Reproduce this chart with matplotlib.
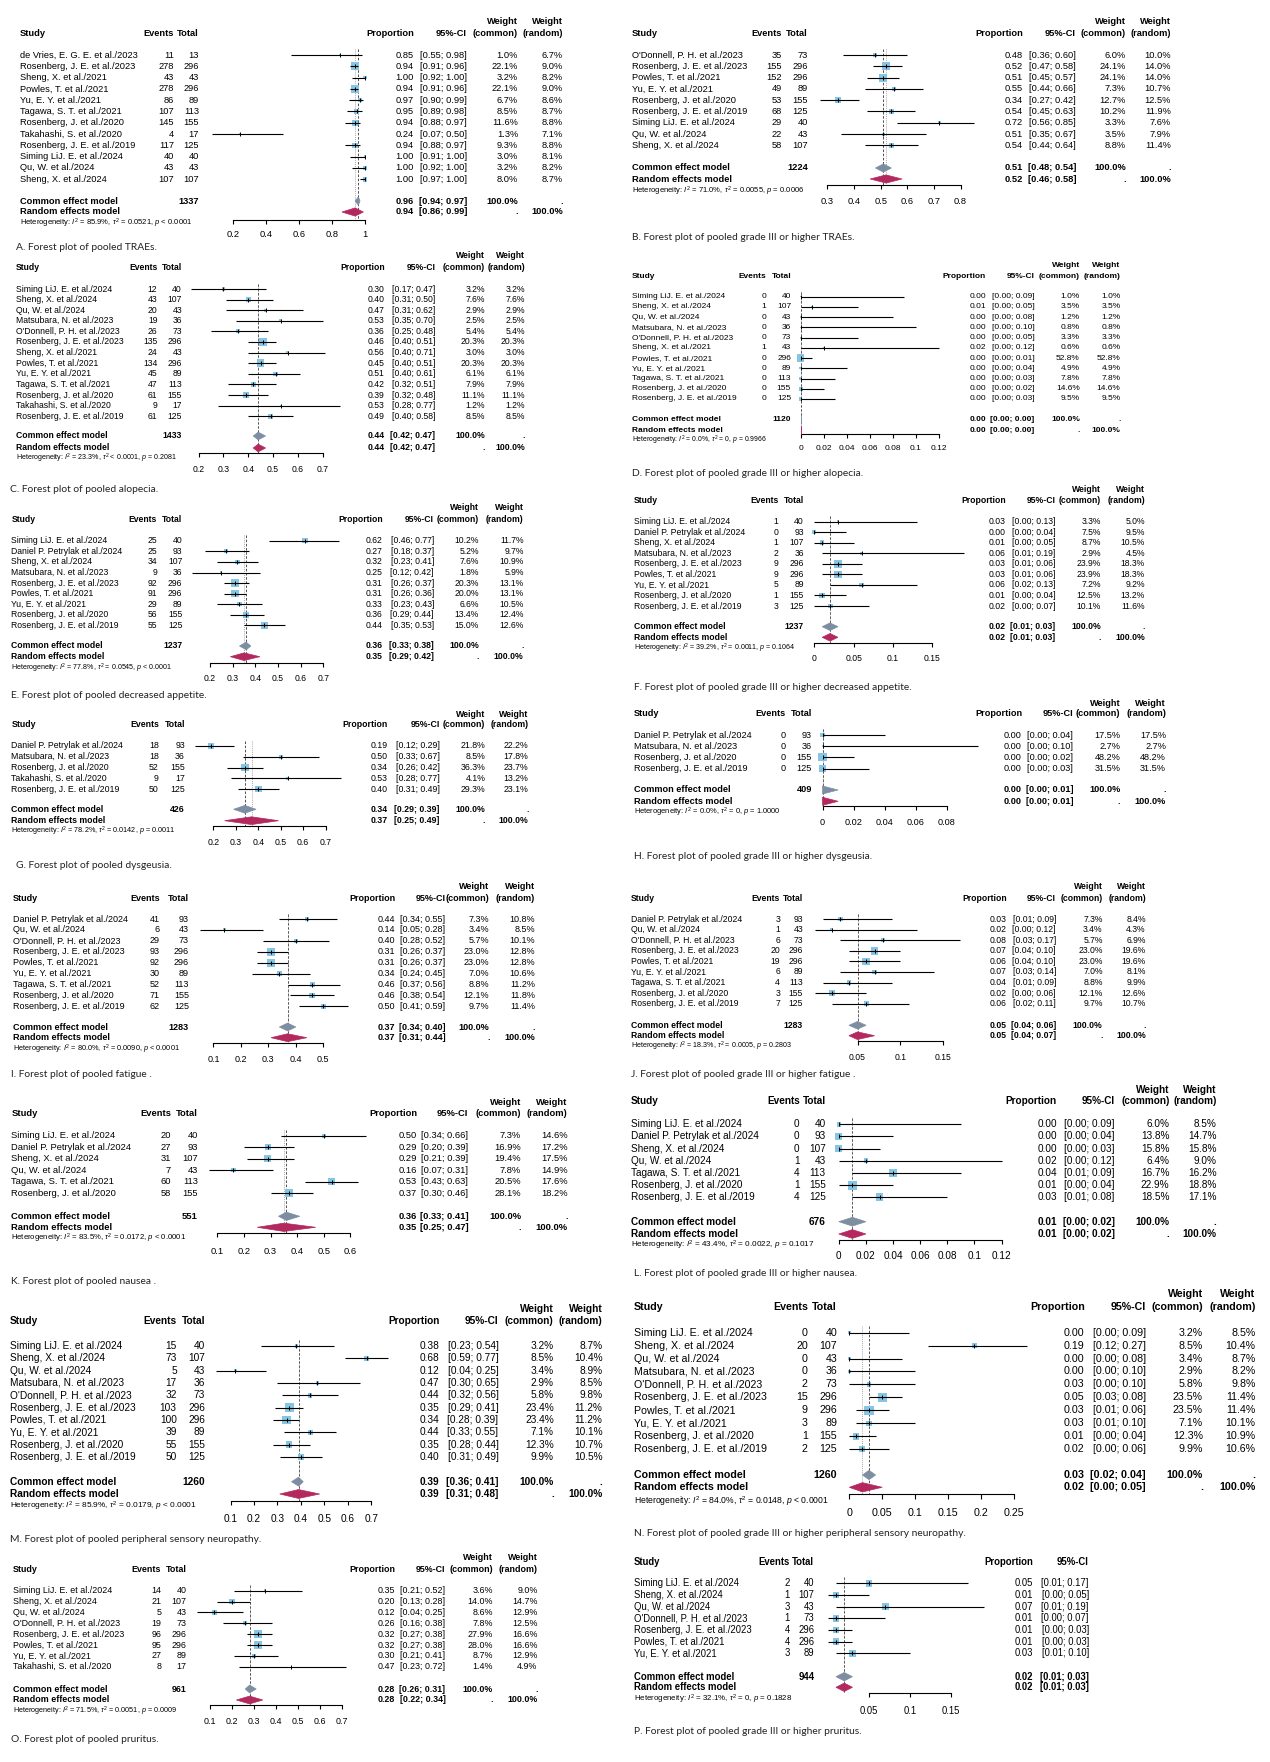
"""Sixteen forest plots of pooled adverse-event proportions (A-P)."""
import matplotlib
matplotlib.use("Agg")
import matplotlib.pyplot as plt
from matplotlib.patches import Polygon

W, H = 1270, 1762
plt.rcParams["font.family"] = ["Liberation Sans", "DejaVu Sans"]
plt.rcParams["mathtext.fontset"] = "custom"
plt.rcParams["mathtext.rm"] = "Liberation Sans"
plt.rcParams["mathtext.it"] = "Liberation Sans:italic"
plt.rcParams["mathtext.bf"] = "Liberation Sans:bold"

# ---------------- data ----------------
A_study = ["de Vries, E. G. E. et al./2023", "Rosenberg, J. E. et al./2023", "Sheng, X. et al./2021",
           "Powles, T. et al./2021", "Yu, E. Y. et al./2021", "Tagawa, S. T. et al./2021",
           "Rosenberg, J. et al./2020", "Takahashi, S. et al./2020", "Rosenberg, J. E. et al./2019",
           "Siming LiJ. E. et al./2024", "Qu, W. et al./2024", "Sheng, X. et al./2024"]
A_events = [11, 278, 43, 278, 86, 107, 145, 4, 117, 40, 43, 107]
A_total = [13, 296, 43, 296, 89, 113, 155, 17, 125, 40, 43, 107]
A_prop = [0.85, 0.94, 1.00, 0.94, 0.97, 0.95, 0.94, 0.24, 0.94, 1.00, 1.00, 1.00]
A_lo = [0.55, 0.91, 0.92, 0.91, 0.90, 0.89, 0.88, 0.07, 0.88, 0.91, 0.92, 0.97]
A_hi = [0.98, 0.96, 1.00, 0.96, 0.99, 0.98, 0.97, 0.50, 0.97, 1.00, 1.00, 1.00]
A_wc = [1.0, 22.1, 3.2, 22.1, 6.7, 8.5, 11.6, 1.3, 9.3, 3.0, 3.2, 8.0]
A_wr = [6.7, 9.0, 8.2, 9.0, 8.6, 8.7, 8.8, 7.1, 8.8, 8.1, 8.2, 8.7]
A_common = [0.96, 0.94, 0.97]
A_random = [0.94, 0.86, 0.99]
A_het = ["85.9%", "= 0.0521", "< 0.0001"]

B_study = ["O'Donnell, P. H. et al./2023", "Rosenberg, J. E. et al./2023", "Powles, T. et al./2021",
           "Yu, E. Y. et al./2021", "Rosenberg, J. et al./2020", "Rosenberg, J. E. et al./2019",
           "Siming LiJ. E. et al./2024", "Qu, W. et al./2024", "Sheng, X. et al./2024"]
B_events = [35, 155, 152, 49, 53, 68, 29, 22, 58]
B_total = [73, 296, 296, 89, 155, 125, 40, 43, 107]
B_prop = [0.48, 0.52, 0.51, 0.55, 0.34, 0.54, 0.72, 0.51, 0.54]
B_lo = [0.36, 0.47, 0.45, 0.44, 0.27, 0.45, 0.56, 0.35, 0.44]
B_hi = [0.60, 0.58, 0.57, 0.66, 0.42, 0.63, 0.85, 0.67, 0.64]
B_wc = [6.0, 24.1, 24.1, 7.3, 12.7, 10.2, 3.3, 3.5, 8.8]
B_wr = [10.0, 14.0, 14.0, 10.7, 12.5, 11.9, 7.6, 7.9, 11.4]
B_common = [0.51, 0.48, 0.54]
B_random = [0.52, 0.46, 0.58]
B_het = ["71.0%", "= 0.0055", "= 0.0006"]

C_study = ["Siming LiJ. E. et al./2024", "Sheng, X. et al./2024", "Qu, W. et al./2024",
           "Matsubara, N. et al./2023", "O'Donnell, P. H. et al./2023", "Rosenberg, J. E. et al./2023",
           "Sheng, X. et al./2021", "Powles, T. et al./2021", "Yu, E. Y. et al./2021",
           "Tagawa, S. T. et al./2021", "Rosenberg, J. et al./2020", "Takahashi, S. et al./2020",
           "Rosenberg, J. E. et al./2019"]
C_events = [12, 43, 20, 19, 26, 135, 24, 134, 45, 47, 61, 9, 61]
C_total = [40, 107, 43, 36, 73, 296, 43, 296, 89, 113, 155, 17, 125]
C_prop = [0.30, 0.40, 0.47, 0.53, 0.36, 0.46, 0.56, 0.45, 0.51, 0.42, 0.39, 0.53, 0.49]
C_lo = [0.17, 0.31, 0.31, 0.35, 0.25, 0.40, 0.40, 0.40, 0.40, 0.32, 0.32, 0.28, 0.40]
C_hi = [0.47, 0.50, 0.62, 0.70, 0.48, 0.51, 0.71, 0.51, 0.61, 0.51, 0.48, 0.77, 0.58]
C_wc = [3.2, 7.6, 2.9, 2.5, 5.4, 20.3, 3.0, 20.3, 6.1, 7.9, 11.1, 1.2, 8.5]
C_wr = [3.2, 7.6, 2.9, 2.5, 5.4, 20.3, 3.0, 20.3, 6.1, 7.9, 11.1, 1.2, 8.5]
C_common = [0.44, 0.42, 0.47]
C_random = [0.44, 0.42, 0.47]
C_het = ["23.3%", "< 0.0001", "= 0.2081"]

D_study = ["Siming LiJ. E. et al./2024", "Sheng, X. et al./2024", "Qu, W. et al./2024",
           "Matsubara, N. et al./2023", "O'Donnell, P. H. et al./2023", "Sheng, X. et al./2021",
           "Powles, T. et al./2021", "Yu, E. Y. et al./2021", "Tagawa, S. T. et al./2021",
           "Rosenberg, J. et al./2020", "Rosenberg, J. E. et al./2019"]
D_events = [0, 1, 0, 0, 0, 1, 0, 0, 0, 0, 0]
D_total = [40, 107, 43, 36, 73, 43, 296, 89, 113, 155, 125]
D_prop = [0.00, 0.01, 0.00, 0.00, 0.00, 0.02, 0.00, 0.00, 0.00, 0.00, 0.00]
D_lo = [0.00, 0.00, 0.00, 0.00, 0.00, 0.00, 0.00, 0.00, 0.00, 0.00, 0.00]
D_hi = [0.09, 0.05, 0.08, 0.10, 0.05, 0.12, 0.01, 0.04, 0.03, 0.02, 0.03]
D_wc = [1.0, 3.5, 1.2, 0.8, 3.3, 0.6, 52.8, 4.9, 7.8, 14.6, 9.5]
D_wr = [1.0, 3.5, 1.2, 0.8, 3.3, 0.6, 52.8, 4.9, 7.8, 14.6, 9.5]
D_common = [0.00, 0.00, 0.00]
D_random = [0.00, 0.00, 0.00]
D_het = ["0.0%", "= 0", "= 0.9966"]

E_study = ["Siming LiJ. E. et al./2024", "Daniel P. Petrylak et al./2024", "Sheng, X. et al./2024",
           "Matsubara, N. et al./2023", "Rosenberg, J. E. et al./2023", "Powles, T. et al./2021",
           "Yu, E. Y. et al./2021", "Rosenberg, J. et al./2020", "Rosenberg, J. E. et al./2019"]
E_events = [25, 25, 34, 9, 92, 91, 29, 56, 55]
E_total = [40, 93, 107, 36, 296, 296, 89, 155, 125]
E_prop = [0.62, 0.27, 0.32, 0.25, 0.31, 0.31, 0.33, 0.36, 0.44]
E_lo = [0.46, 0.18, 0.23, 0.12, 0.26, 0.26, 0.23, 0.29, 0.35]
E_hi = [0.77, 0.37, 0.41, 0.42, 0.37, 0.36, 0.43, 0.44, 0.53]
E_wc = [10.2, 5.2, 7.6, 1.8, 20.3, 20.0, 6.6, 13.4, 15.0]
E_wr = [11.7, 9.7, 10.9, 5.9, 13.1, 13.1, 10.5, 12.4, 12.6]
E_common = [0.36, 0.33, 0.38]
E_random = [0.35, 0.29, 0.42]
E_het = ["77.8%", "= 0.0545", "< 0.0001"]

F_study = E_study
F_events = [1, 0, 1, 2, 9, 9, 5, 1, 3]
F_total = [40, 93, 107, 36, 296, 296, 89, 155, 125]
F_prop = [0.03, 0.00, 0.01, 0.06, 0.03, 0.03, 0.06, 0.01, 0.02]
F_lo = [0.00, 0.00, 0.00, 0.01, 0.01, 0.01, 0.02, 0.00, 0.00]
F_hi = [0.13, 0.04, 0.05, 0.19, 0.06, 0.06, 0.13, 0.04, 0.07]
F_wc = [3.3, 7.5, 8.7, 2.9, 23.9, 23.9, 7.2, 12.5, 10.1]
F_wr = [5.0, 9.5, 10.5, 4.5, 18.3, 18.3, 9.2, 13.2, 11.6]
F_common = [0.02, 0.01, 0.03]
F_random = [0.02, 0.01, 0.03]
F_het = ["39.2%", "= 0.0011", "= 0.1064"]

G_study = ["Daniel P. Petrylak et al./2024", "Matsubara, N. et al./2023", "Rosenberg, J. et al./2020",
           "Takahashi, S. et al./2020", "Rosenberg, J. E. et al./2019"]
G_events = [18, 18, 52, 9, 50]
G_total = [93, 36, 155, 17, 125]
G_prop = [0.19, 0.50, 0.34, 0.53, 0.40]
G_lo = [0.12, 0.33, 0.26, 0.28, 0.31]
G_hi = [0.29, 0.67, 0.42, 0.77, 0.49]
G_wc = [21.8, 8.5, 36.3, 4.1, 29.3]
G_wr = [22.2, 17.8, 23.7, 13.2, 23.1]
G_common = [0.34, 0.29, 0.39]
G_random = [0.37, 0.25, 0.49]
G_het = ["78.2%", "= 0.0142", "= 0.0011"]

H_study = ["Daniel P. Petrylak et al./2024", "Matsubara, N. et al./2023", "Rosenberg, J. et al./2020",
           "Rosenberg, J. E. et al./2019"]
H_events = [0, 0, 0, 0]
H_total = [93, 36, 155, 125]
H_prop = [0.00, 0.00, 0.00, 0.00]
H_lo = [0.00, 0.00, 0.00, 0.00]
H_hi = [0.04, 0.10, 0.02, 0.03]
H_wc = [17.5, 2.7, 48.2, 31.5]
H_wr = [17.5, 2.7, 48.2, 31.5]
H_common = [0.00, 0.00, 0.01]
H_random = [0.00, 0.00, 0.01]
H_het = ["0.0%", "= 0", "= 1.0000"]

I_study = ["Daniel P. Petrylak et al./2024", "Qu, W. et al./2024", "O'Donnell, P. H. et al./2023",
           "Rosenberg, J. E. et al./2023", "Powles, T. et al./2021", "Yu, E. Y. et al./2021",
           "Tagawa, S. T. et al./2021", "Rosenberg, J. et al./2020", "Rosenberg, J. E. et al./2019"]
I_events = [41, 6, 29, 93, 92, 30, 52, 71, 62]
I_total = [93, 43, 73, 296, 296, 89, 113, 155, 125]
I_prop = [0.44, 0.14, 0.40, 0.31, 0.31, 0.34, 0.46, 0.46, 0.50]
I_lo = [0.34, 0.05, 0.28, 0.26, 0.26, 0.24, 0.37, 0.38, 0.41]
I_hi = [0.55, 0.28, 0.52, 0.37, 0.37, 0.45, 0.56, 0.54, 0.59]
I_wc = [7.3, 3.4, 5.7, 23.0, 23.0, 7.0, 8.8, 12.1, 9.7]
I_wr = [10.8, 8.5, 10.1, 12.8, 12.8, 10.6, 11.2, 11.8, 11.4]
I_common = [0.37, 0.34, 0.40]
I_random = [0.37, 0.31, 0.44]
I_het = ["80.0%", "= 0.0090", "< 0.0001"]

J_study = I_study
J_events = [3, 1, 6, 20, 19, 6, 4, 3, 7]
J_total = [93, 43, 73, 296, 296, 89, 113, 155, 125]
J_prop = [0.03, 0.02, 0.08, 0.07, 0.06, 0.07, 0.04, 0.02, 0.06]
J_lo = [0.01, 0.00, 0.03, 0.04, 0.04, 0.03, 0.01, 0.00, 0.02]
J_hi = [0.09, 0.12, 0.17, 0.10, 0.10, 0.14, 0.09, 0.06, 0.11]
J_wc = [7.3, 3.4, 5.7, 23.0, 23.0, 7.0, 8.8, 12.1, 9.7]
J_wr = [8.4, 4.3, 6.9, 19.6, 19.6, 8.1, 9.9, 12.6, 10.7]
J_common = [0.05, 0.04, 0.06]
J_random = [0.05, 0.04, 0.07]
J_het = ["18.3%", "= 0.0005", "= 0.2803"]

K_study = ["Siming LiJ. E. et al./2024", "Daniel P. Petrylak et al./2024", "Sheng, X. et al./2024",
           "Qu, W. et al./2024", "Tagawa, S. T. et al./2021", "Rosenberg, J. et al./2020"]
K_events = [20, 27, 31, 7, 60, 58]
K_total = [40, 93, 107, 43, 113, 155]
K_prop = [0.50, 0.29, 0.29, 0.16, 0.53, 0.37]
K_lo = [0.34, 0.20, 0.21, 0.07, 0.43, 0.30]
K_hi = [0.66, 0.39, 0.39, 0.31, 0.63, 0.46]
K_wc = [7.3, 16.9, 19.4, 7.8, 20.5, 28.1]
K_wr = [14.6, 17.2, 17.5, 14.9, 17.6, 18.2]
K_common = [0.36, 0.33, 0.41]
K_random = [0.35, 0.25, 0.47]
K_het = ["83.5%", "= 0.0172", "< 0.0001"]

L_study = ["Siming LiJ. E. et al./2024", "Daniel P. Petrylak et al./2024", "Sheng, X. et al./2024",
           "Qu, W. et al./2024", "Tagawa, S. T. et al./2021", "Rosenberg, J. et al./2020",
           "Rosenberg, J. E. et al./2019"]
L_events = [0, 0, 0, 1, 4, 1, 4]
L_total = [40, 93, 107, 43, 113, 155, 125]
L_prop = [0.00, 0.00, 0.00, 0.02, 0.04, 0.01, 0.03]
L_lo = [0.00, 0.00, 0.00, 0.00, 0.01, 0.00, 0.01]
L_hi = [0.09, 0.04, 0.03, 0.12, 0.09, 0.04, 0.08]
L_wc = [6.0, 13.8, 15.8, 6.4, 16.7, 22.9, 18.5]
L_wr = [8.5, 14.7, 15.8, 9.0, 16.2, 18.8, 17.1]
L_common = [0.01, 0.00, 0.02]
L_random = [0.01, 0.00, 0.02]
L_het = ["43.4%", "= 0.0022", "= 0.1017"]

M_study = ["Siming LiJ. E. et al./2024", "Sheng, X. et al./2024", "Qu, W. et al./2024",
           "Matsubara, N. et al./2023", "O'Donnell, P. H. et al./2023", "Rosenberg, J. E. et al./2023",
           "Powles, T. et al./2021", "Yu, E. Y. et al./2021", "Rosenberg, J. et al./2020",
           "Rosenberg, J. E. et al./2019"]
M_events = [15, 73, 5, 17, 32, 103, 100, 39, 55, 50]
M_total = [40, 107, 43, 36, 73, 296, 296, 89, 155, 125]
M_prop = [0.38, 0.68, 0.12, 0.47, 0.44, 0.35, 0.34, 0.44, 0.35, 0.40]
M_lo = [0.23, 0.59, 0.04, 0.30, 0.32, 0.29, 0.28, 0.33, 0.28, 0.31]
M_hi = [0.54, 0.77, 0.25, 0.65, 0.56, 0.41, 0.39, 0.55, 0.44, 0.49]
M_wc = [3.2, 8.5, 3.4, 2.9, 5.8, 23.4, 23.4, 7.1, 12.3, 9.9]
M_wr = [8.7, 10.4, 8.9, 8.5, 9.8, 11.2, 11.2, 10.1, 10.7, 10.5]
M_common = [0.39, 0.36, 0.41]
M_random = [0.39, 0.31, 0.48]
M_het = ["85.9%", "= 0.0179", "< 0.0001"]

N_study = M_study
N_events = [0, 20, 0, 0, 2, 15, 9, 3, 1, 2]
N_total = [40, 107, 43, 36, 73, 296, 296, 89, 155, 125]
N_prop = [0.00, 0.19, 0.00, 0.00, 0.03, 0.05, 0.03, 0.03, 0.01, 0.02]
N_lo = [0.00, 0.12, 0.00, 0.00, 0.00, 0.03, 0.01, 0.01, 0.00, 0.00]
N_hi = [0.09, 0.27, 0.08, 0.10, 0.10, 0.08, 0.06, 0.10, 0.04, 0.06]
N_wc = [3.2, 8.5, 3.4, 2.9, 5.8, 23.5, 23.5, 7.1, 12.3, 9.9]
N_wr = [8.5, 10.4, 8.7, 8.2, 9.8, 11.4, 11.4, 10.1, 10.9, 10.6]
N_common = [0.03, 0.02, 0.04]
N_random = [0.02, 0.00, 0.05]
N_het = ["84.0%", "= 0.0148", "< 0.0001"]

O_study = ["Siming LiJ. E. et al./2024", "Sheng, X. et al./2024", "Qu, W. et al./2024",
           "O'Donnell, P. H. et al./2023", "Rosenberg, J. E. et al./2023", "Powles, T. et al./2021",
           "Yu, E. Y. et al./2021", "Takahashi, S. et al./2020"]
O_events = [14, 21, 5, 19, 96, 95, 27, 8]
O_total = [40, 107, 43, 73, 296, 296, 89, 17]
O_prop = [0.35, 0.20, 0.12, 0.26, 0.32, 0.32, 0.30, 0.47]
O_lo = [0.21, 0.13, 0.04, 0.16, 0.27, 0.27, 0.21, 0.23]
O_hi = [0.52, 0.28, 0.25, 0.38, 0.38, 0.38, 0.41, 0.72]
O_wc = [3.6, 14.0, 8.6, 7.8, 27.9, 28.0, 8.7, 1.4]
O_wr = [9.0, 14.7, 12.9, 12.5, 16.6, 16.6, 12.9, 4.9]
O_common = [0.28, 0.26, 0.31]
O_random = [0.28, 0.22, 0.34]
O_het = ["71.5%", "= 0.0051", "= 0.0009"]

P_study = ["Siming LiJ. E. et al./2024", "Sheng, X. et al./2024", "Qu, W. et al./2024",
           "O'Donnell, P. H. et al./2023", "Rosenberg, J. E. et al./2023", "Powles, T. et al./2021",
           "Yu, E. Y. et al./2021"]
P_events = [2, 1, 3, 1, 4, 4, 3]
P_total = [40, 107, 43, 73, 296, 296, 89]
P_prop = [0.05, 0.01, 0.07, 0.01, 0.01, 0.01, 0.03]
P_lo = [0.01, 0.00, 0.01, 0.00, 0.00, 0.00, 0.01]
P_hi = [0.17, 0.05, 0.19, 0.07, 0.03, 0.03, 0.10]
P_common = [0.02, 0.01, 0.03]
P_random = [0.02, 0.01, 0.03]
P_het = ["32.1%", "= 0", "= 0.1828"]

captions = {
    "A": "A. Forest plot of pooled TRAEs.",
    "B": "B. Forest plot of pooled grade III or higher TRAEs.",
    "C": "C. Forest plot of pooled alopecia.",
    "D": "D. Forest plot of pooled grade III or higher alopecia.",
    "E": "E. Forest plot of pooled decreased appetite.",
    "F": "F. Forest plot of pooled grade III or higher decreased appetite.",
    "G": "G. Forest plot of pooled dysgeusia.",
    "H": "H. Forest plot of pooled grade III or higher dysgeusia.",
    "I": "I. Forest plot of pooled fatigue .",
    "J": "J. Forest plot of pooled grade III or higher fatigue .",
    "K": "K. Forest plot of pooled nausea .",
    "L": "L. Forest plot of pooled grade III or higher nausea.",
    "M": "M. Forest plot of pooled peripheral sensory neuropathy.",
    "N": "N. Forest plot of pooled grade III or higher peripheral sensory neuropathy.",
    "O": "O. Forest plot of pooled pruritus.",
    "P": "P. Forest plot of pooled grade III or higher pruritus.",
}

ticks = {
    "A": [0.2, 0.4, 0.6, 0.8, 1], "B": [0.3, 0.4, 0.5, 0.6, 0.7, 0.8],
    "C": [0.2, 0.3, 0.4, 0.5, 0.6, 0.7], "D": [0, 0.02, 0.04, 0.06, 0.08, 0.1, 0.12],
    "E": [0.2, 0.3, 0.4, 0.5, 0.6, 0.7], "F": [0, 0.05, 0.1, 0.15],
    "G": [0.2, 0.3, 0.4, 0.5, 0.6, 0.7], "H": [0, 0.02, 0.04, 0.06, 0.08],
    "I": [0.1, 0.2, 0.3, 0.4, 0.5], "J": [0.05, 0.1, 0.15],
    "K": [0.1, 0.2, 0.3, 0.4, 0.5, 0.6], "L": [0, 0.02, 0.04, 0.06, 0.08, 0.1, 0.12],
    "M": [0.1, 0.2, 0.3, 0.4, 0.5, 0.6, 0.7], "N": [0, 0.05, 0.1, 0.15, 0.2, 0.25],
    "O": [0.1, 0.2, 0.3, 0.4, 0.5, 0.6, 0.7], "P": [0.05, 0.1, 0.15],
}

# ---------------- layout (pixel positions measured off the page) ----------------
# study, events, total, tick px (first, last), prop, ci right, w common, w random,
# header rows, first row, row spacing, common, random, heterogeneity, axis,
# tick-label centre, caption
LAY = {
    "A": dict(x=19.5, ev=174, tot=199, tp=(233, 365), pr=414, ci=467, wc=518, wr=563,
              h1=22, h2=33, r0=55, sp=11.3, yc=201, yr=212, het=223, ax=219.5, tl=235, cap=247, capx=16),
    "B": dict(x=632, ev=782, tot=808, tp=(827.5, 960.6), pr=1023, ci=1076, wc=1126, wr=1171,
              h1=22, h2=33, r0=55, sp=11.3, yc=168, yr=179, het=191, ax=185, tl=202, cap=238, capx=632),
    "C": dict(x=15.5, ev=157.5, tot=182, tp=(198.6, 322.7), pr=384.6, ci=435.5, wc=485, wr=525,
              h1=256, h2=267, r0=289, sp=10.6, yc=436, yr=448, het=458, ax=453, tl=470, cap=490, capx=10),
    "D": dict(x=632, ev=766.5, tot=791, tp=(800.6, 939), pr=985.8, ci=1034.7, wc=1079.8, wr=1120.5,
              h1=265.7, h2=276, r0=296.7, sp=10.23, yc=419.3, yr=430, het=440.3, ax=434, tl=450, cap=473, capx=632),
    "E": dict(x=11.4, ev=157, tot=182.4, tp=(210, 323.3), pr=382.7, ci=434, wc=478.8, wr=523.6,
              h1=508, h2=520, r0=540.7, sp=10.6, yc=646, yr=656.7, het=668, ax=662.7, tl=679, cap=696, capx=11.4),
    "F": dict(x=633.6, ev=778.5, tot=803.7, tp=(814.3, 932.4), pr=1005.7, ci=1055.4, wc=1101, wr=1145,
              h1=489, h2=500.7, r0=521.7, sp=10.54, yc=626.7, yr=637.3, het=648.3, ax=643, tl=659, cap=688, capx=633.6),
    "G": dict(x=11.4, ev=158.8, tot=184.9, tp=(213.4, 325.7), pr=387.6, ci=439.7, wc=485.3, wr=528.5,
              h1=714.3, h2=724.7, r0=746, sp=10.75, yc=809.3, yr=820.7, het=831.7, ax=825.7, tl=842.7, cap=865, capx=16),
    "H": dict(x=633.6, ev=785.8, tot=811.9, tp=(822.5, 947), pr=1022, ci=1073.3, wc=1120.5, wr=1166,
              h1=703.3, h2=714, r0=735, sp=11.2, yc=790, yr=801.3, het=812.7, ax=806, tl=823.3, cap=856.7, capx=633.6),
    "I": dict(x=13, ev=159.6, tot=189, tp=(213.4, 323.3), pr=395, ci=445.4, wc=489.4, wr=535,
              h1=886.7, h2=898.3, r0=919, sp=10.92, yc=1027, yr=1037.7, het=1049.3, ax=1043.3, tl=1060, cap=1074.3, capx=11.4),
    "J": dict(x=631, ev=780, tot=803, tp=(857.5, 943), pr=1007, ci=1056, wc=1102.6, wr=1145.8,
              h1=886.7, h2=898.3, r0=919, sp=10.6, yc=1025.3, yr=1035.7, het=1046.7, ax=1040.7, tl=1057.3, cap=1074.3, capx=631),
    "K": dict(x=11.4, ev=171, tot=197.9, tp=(217.4, 350.2), pr=417, ci=468.2, wc=521.2, wr=567.6,
              h1=1102.3, h2=1113.3, r0=1135.7, sp=11.5, yc=1216.3, yr=1227.3, het=1238.3, ax=1232.7, tl=1251.7, cap=1281.7, capx=11.4),
    "L": dict(x=631, ev=799.7, tot=825.7, tp=(838.8, 1001.6), pr=1057, ci=1114.8, wc=1169.4, wr=1216.6,
              h1=1090, h2=1101, r0=1124.3, sp=12.17, yc=1221.7, yr=1234, het=1245, ax=1240, tl=1256.7, cap=1273.3, capx=633.6),
    "M": dict(x=9.8, ev=176.7, tot=205.2, tp=(230.5, 371.3), pr=439.7, ci=498.4, wc=553.7, wr=602.6,
              h1=1309, h2=1321, r0=1346, sp=12.33, yc=1481.7, yr=1494, het=1506, ax=1501, tl=1519.3, cap=1540, capx=9.8),
    "N": dict(x=633.6, ev=807.8, tot=837.1, tp=(849.3, 1013.8), pr=1084.7, ci=1145.8, wc=1202.8, wr=1255.7,
              h1=1294.3, h2=1307, r0=1332.7, sp=12.93, yc=1475, yr=1487.3, het=1501, ax=1494.3, tl=1514.3, cap=1533.3, capx=633.6),
    "O": dict(x=13, ev=161.2, tot=186.5, tp=(210, 342), pr=395, ci=445.4, wc=492.7, wr=537.5,
              h1=1557.3, h2=1569.3, r0=1590.7, sp=10.86, yc=1689, yr=1700, het=1711.7, ax=1705, tl=1721.7, cap=1740, capx=11.4),
    "P": dict(x=633.6, ev=789.9, tot=814.3, tp=(868.9, 951.1), pr=1033, ci=1088.8, wc=None, wr=None,
              h1=None, h2=1561.7, r0=1583.3, sp=11.67, yc=1676.7, yr=1687.3, het=1699, ax=1693.3, tl=1711.7, cap=1731.7, capx=633.6),
}

SQUARE = "#86c5e3"
COMMON = "#7d8ea3"
RANDOM = "#b3285e"

fig = plt.figure(figsize=(W / 100, H / 100), dpi=100)
base = fig.add_axes([0, 0, 1, 1])
base.set_xlim(0, W)
base.set_ylim(H, 0)
base.axis("off")


def txt(x, y, s, fs, ha="left", bold=False, **kw):
    base.text(x, y, s, fontsize=fs, ha=ha, va="center",
              fontweight="bold" if bold else "normal", **kw)


def panel(key, study, events, total, prop, lo, hi, wc, wr, common, random, het):
    L = LAY[key]
    sp = L["sp"]
    fs = sp * 0.59
    ys = [L["r0"] + i * sp for i in range(len(study))]

    # header
    txt(L["x"], L["h2"], "Study", fs, bold=True)
    txt(L["ev"], L["h2"], "Events", fs, ha="right", bold=True)
    txt(L["tot"], L["h2"], "Total", fs, ha="right", bold=True)
    txt(L["pr"], L["h2"], "Proportion", fs, ha="right", bold=True)
    txt(L["ci"], L["h2"], "95%-CI", fs, ha="right", bold=True)
    if wc is not None:
        txt(L["wc"], L["h1"], "Weight", fs, ha="right", bold=True)
        txt(L["wc"], L["h2"], "(common)", fs, ha="right", bold=True)
        txt(L["wr"], L["h1"], "Weight", fs, ha="right", bold=True)
        txt(L["wr"], L["h2"], "(random)", fs, ha="right", bold=True)

    # study rows
    for i, y in enumerate(ys):
        txt(L["x"], y, study[i], fs)
        txt(L["ev"], y, str(events[i]), fs, ha="right")
        txt(L["tot"], y, str(total[i]), fs, ha="right")
        txt(L["pr"], y, f"{prop[i]:.2f}", fs, ha="right")
        txt(L["ci"], y, f"[{lo[i]:.2f}; {hi[i]:.2f}]", fs, ha="right")
        if wc is not None:
            txt(L["wc"], y, f"{wc[i]:.1f}%", fs, ha="right")
            txt(L["wr"], y, f"{wr[i]:.1f}%", fs, ha="right")

    # summary rows
    txt(L["x"], L["yc"], "Common effect model", fs, bold=True)
    txt(L["tot"], L["yc"], str(sum(total)), fs, ha="right", bold=True)
    txt(L["x"], L["yr"], "Random effects model", fs, bold=True)
    for y, (est, clo, chi) in ((L["yc"], common), (L["yr"], random)):
        txt(L["pr"], y, f"{est:.2f}", fs, ha="right", bold=True)
        txt(L["ci"], y, f"[{clo:.2f}; {chi:.2f}]", fs, ha="right", bold=True)
    if wc is not None:
        txt(L["wc"], L["yc"], "100.0%", fs, ha="right", bold=True)
        txt(L["wr"], L["yc"], ".", fs, ha="right", bold=True)
        txt(L["wc"], L["yr"], ".", fs, ha="right", bold=True)
        txt(L["wr"], L["yr"], "100.0%", fs, ha="right", bold=True)
    txt(L["x"], L["het"],
        rf"Heterogeneity: $I^2$ = {het[0]}, $\tau^2$ {het[1]}, $p$ {het[2]}", fs * 0.82)

    # caption
    base.text(L["capx"], L["cap"], captions[key], fontsize=7.4, ha="left", va="center",
              family=["Lato", "DejaVu Sans"], color="#222222")

    # forest axes: x in proportion units, y in page pixels
    tk = ticks[key]
    t0, t1 = tk[0], tk[-1]
    p0, p1 = L["tp"]
    k = (p1 - p0) / (t1 - t0)
    xmin = min(t0, min(lo)) - 0.002
    xmax = max(t1, max(hi)) + 0.002
    left = p0 - (t0 - xmin) * k
    right = p1 + (xmax - t1) * k
    top = L["r0"] - sp
    bot = L["ax"]
    ax = fig.add_axes([left / W, 1 - bot / H, (right - left) / W, (bot - top) / H])
    ax.set_xlim(xmin, xmax)
    ax.set_ylim(bot, top)
    ax.patch.set_visible(False)
    for s in ("top", "left", "right"):
        ax.spines[s].set_visible(False)
    ax.spines["bottom"].set_bounds(t0, t1)
    ax.spines["bottom"].set_linewidth(0.8)
    ax.set_yticks([])
    ax.set_xticks(tk)
    ax.set_xticklabels([f"{t:g}" for t in tk], fontsize=fs)
    tick_px = 0.35 * sp
    pad_px = max((L["tl"] - 0.45 * sp) - bot - tick_px, 1.0)
    ax.tick_params(axis="x", direction="out", length=tick_px * 0.72, width=0.8,
                   pad=pad_px * 0.72)

    # reference lines at pooled estimates
    ax.plot([common[0], common[0]], [ys[0] - 0.5 * sp, bot], color="#333333",
            lw=0.6, ls=(0, (3, 2)), zorder=1, clip_on=False)
    ax.plot([random[0], random[0]], [ys[0] - 0.5 * sp, bot], color="#888888",
            lw=0.6, ls=(0, (1, 1.5)), zorder=1, clip_on=False)

    # squares sized by common-effect weight
    if wc is not None:
        wmax = max(wc)
        sides = [max(0.72 * sp * (w / wmax) ** 0.5, 1.4) * 0.72 for w in wc]
    else:
        sides = [0.55 * sp * 0.72 for _ in prop]
    ax.scatter(prop, ys, marker="s", s=[sd ** 2 for sd in sides], color=SQUARE,
               edgecolors="none", zorder=2, clip_on=False)
    ax.hlines(ys, lo, hi, color="black", lw=0.8, zorder=3, clip_on=False)
    ax.scatter(prop, ys, marker="|", s=(0.35 * sp * 0.72) ** 2, color="black",
               linewidths=0.7, zorder=4, clip_on=False)

    # diamonds
    h = 0.36 * sp
    for y, (est, clo, chi), col in ((L["yc"], common, COMMON), (L["yr"], random, RANDOM)):
        ax.add_patch(Polygon([[clo, y], [est, y - h], [chi, y], [est, y + h]],
                             closed=True, facecolor=col, edgecolor=col, lw=0.5,
                             zorder=3, clip_on=False))


panel("A", A_study, A_events, A_total, A_prop, A_lo, A_hi, A_wc, A_wr, A_common, A_random, A_het)
panel("B", B_study, B_events, B_total, B_prop, B_lo, B_hi, B_wc, B_wr, B_common, B_random, B_het)
panel("C", C_study, C_events, C_total, C_prop, C_lo, C_hi, C_wc, C_wr, C_common, C_random, C_het)
panel("D", D_study, D_events, D_total, D_prop, D_lo, D_hi, D_wc, D_wr, D_common, D_random, D_het)
panel("E", E_study, E_events, E_total, E_prop, E_lo, E_hi, E_wc, E_wr, E_common, E_random, E_het)
panel("F", F_study, F_events, F_total, F_prop, F_lo, F_hi, F_wc, F_wr, F_common, F_random, F_het)
panel("G", G_study, G_events, G_total, G_prop, G_lo, G_hi, G_wc, G_wr, G_common, G_random, G_het)
panel("H", H_study, H_events, H_total, H_prop, H_lo, H_hi, H_wc, H_wr, H_common, H_random, H_het)
panel("I", I_study, I_events, I_total, I_prop, I_lo, I_hi, I_wc, I_wr, I_common, I_random, I_het)
panel("J", J_study, J_events, J_total, J_prop, J_lo, J_hi, J_wc, J_wr, J_common, J_random, J_het)
panel("K", K_study, K_events, K_total, K_prop, K_lo, K_hi, K_wc, K_wr, K_common, K_random, K_het)
panel("L", L_study, L_events, L_total, L_prop, L_lo, L_hi, L_wc, L_wr, L_common, L_random, L_het)
panel("M", M_study, M_events, M_total, M_prop, M_lo, M_hi, M_wc, M_wr, M_common, M_random, M_het)
panel("N", N_study, N_events, N_total, N_prop, N_lo, N_hi, N_wc, N_wr, N_common, N_random, N_het)
panel("O", O_study, O_events, O_total, O_prop, O_lo, O_hi, O_wc, O_wr, O_common, O_random, O_het)
panel("P", P_study, P_events, P_total, P_prop, P_lo, P_hi, None, None, P_common, P_random, P_het)

fig.savefig("out.png", dpi=100)
print("wrote out.png")
